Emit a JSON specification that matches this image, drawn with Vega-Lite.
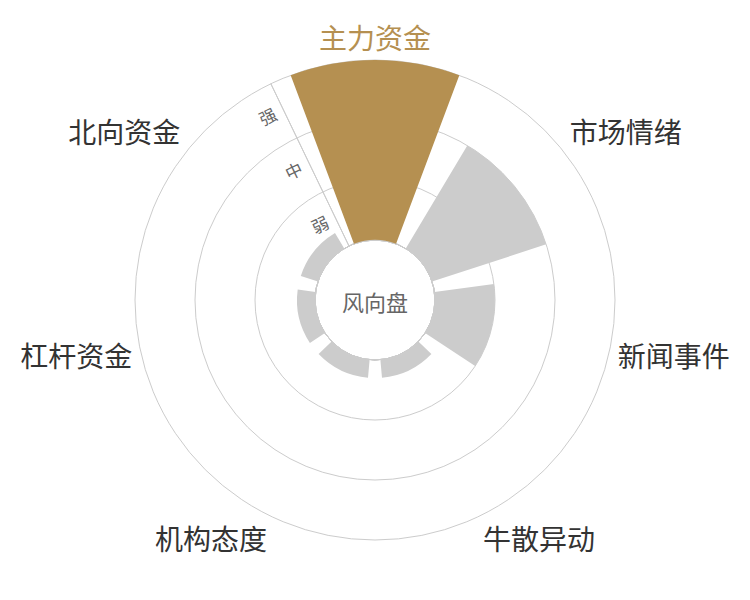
{
  "$schema": "https://vega.github.io/schema/vega-lite/v6.json",
  "width": 750,
  "height": 600,
  "autosize": {"type": "fit", "contains": "padding"},
  "background": "white",
  "config": {"view": {"stroke": null}, "font": "Noto Sans CJK SC"},
  "datasets": {
    "cats": [
      {"name": "主力资金", "level": 3, "idx": 0},
      {"name": "市场情绪", "level": 2, "idx": 1},
      {"name": "新闻事件", "level": 1, "idx": 2},
      {"name": "牛散异动", "level": 0.3, "idx": 3},
      {"name": "机构态度", "level": 0.3, "idx": 4},
      {"name": "杠杆资金", "level": 0.3, "idx": 5},
      {"name": "北向资金", "level": 0.3, "idx": 6}
    ],
    "rings": [{"ring": 0}, {"ring": 1}, {"ring": 2}, {"ring": 3}],
    "ticks": [
      {"lab": "弱", "lv": 0.5},
      {"lab": "中", "lv": 1.5},
      {"lab": "强", "lv": 2.5}
    ],
    "center": [{"t": "风向盘"}]
  },
  "resolve": {"scale": {"theta": "shared", "radius": "shared"}},
  "layer": [
    {
      "data": {"name": "rings"},
      "mark": {"type": "arc", "filled": false, "stroke": "#cccccc", "strokeWidth": 1, "theta": 0, "theta2": 6.2832},
      "encoding": {
        "radius": {"field": "ring", "type": "quantitative", "stack": null,
          "scale": {"type": "linear", "zero": false, "domain": [0, 3], "range": [60, 240]}}
      }
    },
    {
      "data": {"name": "center"},
      "mark": {"type": "arc", "filled": false, "stroke": "#cccccc", "strokeWidth": 1},
      "encoding": {
        "theta": {"datum": -0.5, "type": "quantitative",
          "scale": {"type": "linear", "zero": false, "domain": [0, 7], "range": [0, 6.2832]}},
        "theta2": {"datum": -0.5},
        "radius": {"datum": 3, "type": "quantitative",
          "scale": {"type": "linear", "zero": false, "domain": [0, 3], "range": [60, 240]}},
        "radius2": {"datum": 0}
      }
    },
    {
      "data": {"name": "cats"},
      "mark": {"type": "arc", "thetaOffset": -0.359, "theta2Offset": 0.359},
      "encoding": {
        "theta": {"field": "idx", "type": "quantitative",
          "scale": {"type": "linear", "zero": false, "domain": [0, 7], "range": [0, 6.2832]}},
        "theta2": {"field": "idx"},
        "radius": {"field": "level", "type": "quantitative",
          "scale": {"type": "linear", "zero": false, "domain": [0, 3], "range": [60, 240]}},
        "radius2": {"datum": 0},
        "color": {"condition": {"test": "datum.name === '主力资金'", "value": "#b59051"}, "value": "#cccccc"}
      }
    },
    {
      "data": {"name": "cats"},
      "mark": {
        "type": "text", "fontSize": 28, "dy": 4,
        "align": {"expr": "datum.idx == 0 ? 'center' : datum.idx < 4 ? 'left' : 'right'"},
        "baseline": {"expr": "(datum.idx == 0 || datum.idx == 1 || datum.idx == 6) ? 'bottom' : (datum.idx == 2 || datum.idx == 5) ? 'middle' : 'top'"}
      },
      "encoding": {
        "theta": {"field": "idx", "type": "quantitative",
          "scale": {"type": "linear", "zero": false, "domain": [0, 7], "range": [0, 6.2832]}},
        "radius": {"datum": 3.15, "type": "quantitative",
          "scale": {"type": "linear", "zero": false, "domain": [0, 3], "range": [60, 240]}},
        "text": {"field": "name"},
        "color": {"condition": {"test": "datum.name === '主力资金'", "value": "#b59051"}, "value": "#333333"}
      }
    },
    {
      "data": {"name": "ticks"},
      "mark": {"type": "text", "fontSize": 17, "angle": 334.3, "dx": -17, "align": "center", "baseline": "middle", "color": "#666666"},
      "encoding": {
        "theta": {"datum": -0.5, "type": "quantitative",
          "scale": {"type": "linear", "zero": false, "domain": [0, 7], "range": [0, 6.2832]}},
        "radius": {"field": "lv", "type": "quantitative",
          "scale": {"type": "linear", "zero": false, "domain": [0, 3], "range": [60, 240]}},
        "text": {"field": "lab"}
      }
    },
    {
      "data": {"name": "center"},
      "mark": {"type": "text", "fontSize": 22, "dy": 4, "align": "center", "baseline": "middle", "color": "#666666"},
      "encoding": {
        "text": {"field": "t"}
      }
    }
  ]
}
